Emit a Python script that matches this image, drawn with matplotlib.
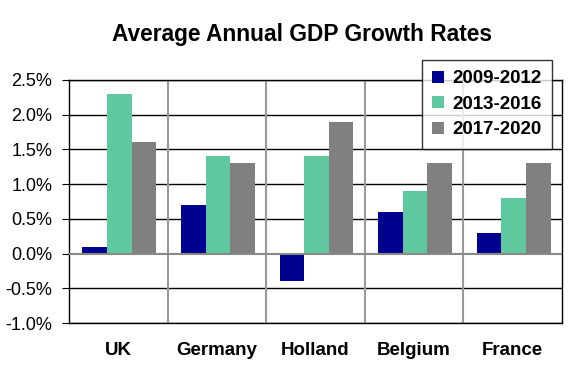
import matplotlib
matplotlib.use("Agg")
import matplotlib.pyplot as plt
import numpy as np

plt.rcParams['font.family'] = ['Liberation Sans', 'DejaVu Sans']

categories = ["UK", "Germany", "Holland", "Belgium", "France"]
series_names = ["2009-2012", "2013-2016", "2017-2020"]
s2009 = [0.1, 0.7, -0.4, 0.6, 0.3]
s2013 = [2.3, 1.4, 1.4, 0.9, 0.8]
s2017 = [1.6, 1.3, 1.9, 1.3, 1.3]
yticks = [-1.0, -0.5, 0.0, 0.5, 1.0, 1.5, 2.0, 2.5]
colors = ["#000090", "#60c89e", "#808080"]

fig = plt.figure(figsize=(5.75, 3.78), dpi=100)
ax = fig.add_axes([69/575, 1-323/378, (562-69)/575, (323-80)/378])

x = np.arange(len(categories))
w = 0.25
handles = []
for i, (vals, c) in enumerate(zip([s2009, s2013, s2017], colors)):
    h = ax.bar(x + (i-1)*w + 0.01, vals, width=w, color=c, zorder=3, label=series_names[i])
    handles.append(h)

ax.set_xlim(-0.5, len(categories)-0.5)
ax.set_ylim(-1.0, 2.5)
ax.set_yticks(yticks)
ax.set_yticklabels([f"{v:.1f}%" for v in yticks], fontsize=13)
for v in yticks:
    if v != 0:
        ax.axhline(v, color="black", lw=1, zorder=1)
ax.axhline(0, color="#888888", lw=1.5, zorder=4)
for b in np.arange(0.5, len(categories)-0.5, 1.0):
    ax.axvline(b, color="#999999", lw=1.5, zorder=1)

ax.set_xticks(x)
ax.set_xticklabels(categories, fontsize=13.5, fontweight="bold")
ax.tick_params(axis="x", length=0, pad=14)
ax.tick_params(axis="y", length=5, direction="out", color="black", pad=7)
for s in ax.spines.values():
    s.set_color("black")
    s.set_linewidth(1)

fig.text(302/575, 1-34/378, "Average Annual GDP Growth Rates", ha="center", va="center",
         fontsize=16.4, fontweight="bold")

leg = fig.legend(handles=handles, loc="upper left",
                 bbox_to_anchor=(422/575, 1-60/378), prop={"size": 13.5, "weight": "bold"},
                 frameon=True, fancybox=False, handlelength=0.6, handleheight=0.6,
                 handletextpad=0.45, labelspacing=0.45, borderpad=0.55, borderaxespad=0)
leg.get_frame().set_edgecolor("black")
leg.get_frame().set_linewidth(1)
leg.set_zorder(10)

fig.savefig("out.png", dpi=100)
